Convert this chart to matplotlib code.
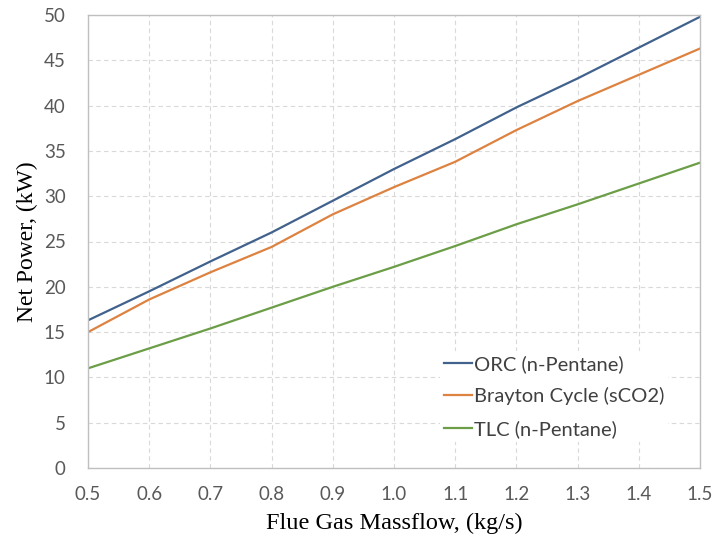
import matplotlib.pyplot as plt

# Flue gas massflow (kg/s)
massflow = [0.5, 0.6, 0.7, 0.8, 0.9, 1.0, 1.1, 1.2, 1.3, 1.4, 1.5]

# Net power (kW) per cycle
orc_power = [16.3, 19.5, 22.8, 26.0, 29.5, 33.0, 36.3, 39.8, 43.0, 46.4, 49.8]
brayton_power = [15.0, 18.6, 21.6, 24.4, 28.0, 31.0, 33.8, 37.3, 40.5, 43.4, 46.3]
tlc_power = [11.0, 13.2, 15.4, 17.7, 20.0, 22.2, 24.5, 26.9, 29.1, 31.4, 33.7]

series_names = ["ORC (n-Pentane)", "Brayton Cycle (sCO2)", "TLC (n-Pentane)"]
colors = ["#41628c", "#dd8240", "#6b9e47"]

x_ticks = [0.5, 0.6, 0.7, 0.8, 0.9, 1.0, 1.1, 1.2, 1.3, 1.4, 1.5]
y_ticks = [0, 5, 10, 15, 20, 25, 30, 35, 40, 45, 50]

fig = plt.figure(figsize=(7.15, 5.41), dpi=100)
ax = fig.add_axes([88 / 715, 1 - 468 / 541, (700 - 88) / 715, (468 - 15) / 541])

for vals, name, col in zip([orc_power, brayton_power, tlc_power], series_names, colors):
    ax.plot(massflow, vals, color=col, lw=1.6, label=name)

ax.set_xlim(0.5, 1.5)
ax.set_ylim(0, 50)
ax.set_xticks(x_ticks)
ax.set_xticklabels([f"{v:.1f}" for v in x_ticks])
ax.set_yticks(y_ticks)
ax.tick_params(length=0, labelsize=13.5, labelcolor="#595959")
ax.tick_params(axis="y", pad=16)
ax.tick_params(axis="x", pad=13)
for lbl in ax.get_xticklabels() + ax.get_yticklabels():
    lbl.set_family("Lato")

# dashed light grid like the Excel original
ax.grid(True, color="#d9d9d9", ls=(0, (4, 3)), lw=0.8)
ax.set_axisbelow(True)
for sp in ax.spines.values():
    sp.set_color("#bfbfbf")
    sp.set_linewidth(1.0)

ax.set_xlabel("Flue Gas Massflow, (kg/s)", family="Liberation Serif", fontsize=17.5, labelpad=7)
ax.set_ylabel("Net Power, (kW)", family="Liberation Serif", fontsize=17, labelpad=4)

leg = ax.legend(loc="center left", bbox_to_anchor=(0.558, 0.158), frameon=True, facecolor="white",
                edgecolor="none", framealpha=1, fancybox=False, handlelength=1.4, handletextpad=0.1,
                labelspacing=0.72, prop={"family": "Lato", "size": 14.5}, borderpad=0.2)
for t in leg.get_texts():
    t.set_color("#404040")

fig.savefig("out.png", dpi=100)
